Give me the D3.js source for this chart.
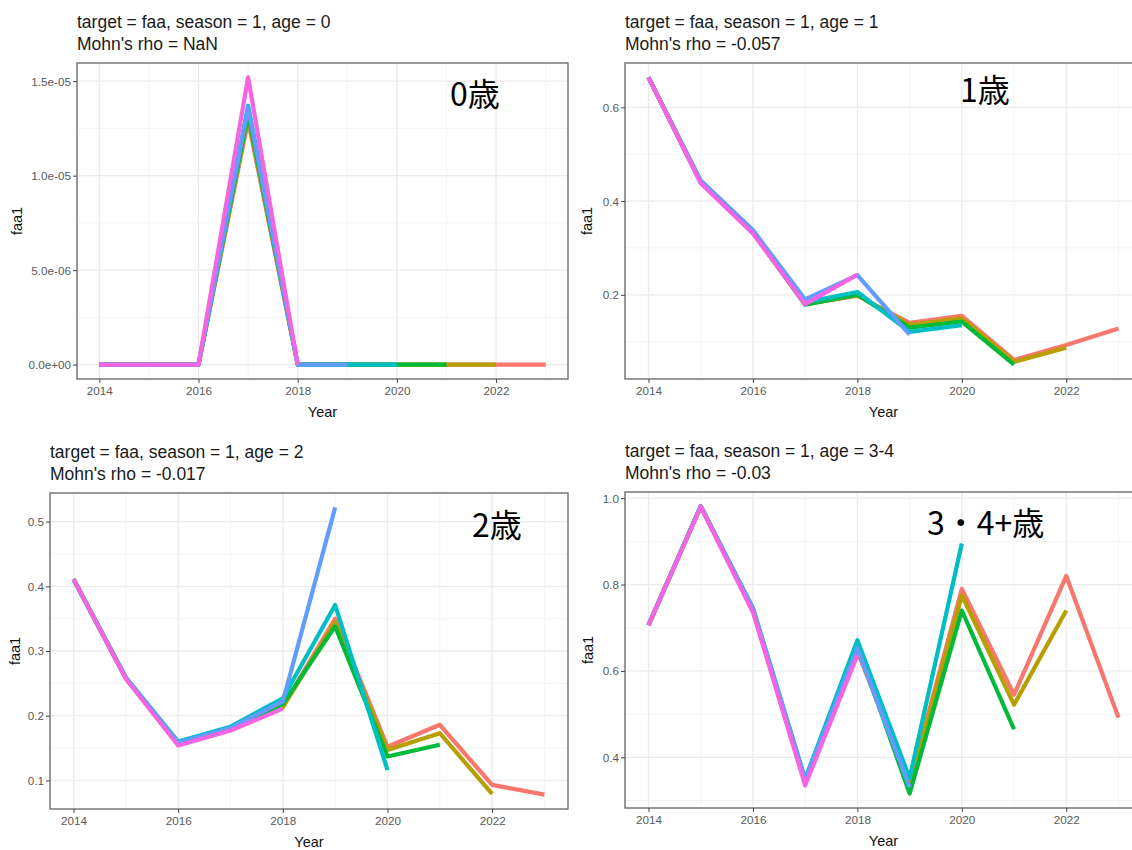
<!DOCTYPE html>
<html>
<head>
<meta charset="utf-8">
<script src="https://cdn.jsdelivr.net/npm/d3@7"></script>
<style>
  body { margin: 0; background: #fff; }
  svg { display: block; font-family: "Liberation Sans", Arial, sans-serif; }
</style>
</head>
<body>
<svg id="chart" width="1132" height="850"></svg>
<script>
// Retrospective runs of faa (season 1), one line per terminal year.
const years = [2014, 2015, 2016, 2017, 2018, 2019, 2020, 2021, 2022, 2023];
const runs = ["2023", "2022", "2021", "2020", "2019", "2018"];
const runColors = ["#F8766D", "#B79F00", "#00BA38", "#00BFC4", "#619CFF", "#F564E3"];

// age 0 — one array per run (2023 ... 2018)
const age0 = [
  [0, 0, 0, 1.29e-5, 0, 0, 0, 0, 0, 0],
  [0, 0, 0, 1.31e-5, 0, 0, 0, 0, 0],
  [0, 0, 0, 1.33e-5, 0, 0, 0, 0],
  [0, 0, 0, 1.37e-5, 0, 0, 0],
  [0, 0, 0, 1.36e-5, 0, 0],
  [0, 0, 0, 1.52e-5, 0]
];
// age 1
const age1 = [
  [0.664, 0.440, 0.333, 0.180, 0.198, 0.140, 0.155, 0.061, 0.093, 0.128],
  [0.664, 0.440, 0.333, 0.180, 0.199, 0.136, 0.150, 0.057, 0.087],
  [0.664, 0.440, 0.333, 0.179, 0.200, 0.130, 0.143, 0.051],
  [0.664, 0.442, 0.335, 0.184, 0.206, 0.121, 0.135],
  [0.664, 0.444, 0.338, 0.190, 0.242, 0.115],
  [0.664, 0.438, 0.331, 0.180, 0.243]
];
// age 2
const age2 = [
  [0.411, 0.258, 0.155, 0.178, 0.214, 0.350, 0.152, 0.186, 0.093, 0.078],
  [0.411, 0.258, 0.155, 0.178, 0.213, 0.345, 0.147, 0.173, 0.079],
  [0.411, 0.258, 0.156, 0.179, 0.218, 0.338, 0.137, 0.155],
  [0.411, 0.259, 0.160, 0.183, 0.227, 0.371, 0.116],
  [0.411, 0.259, 0.158, 0.181, 0.222, 0.522],
  [0.411, 0.257, 0.154, 0.177, 0.211]
];
// age 3-4
const age34 = [
  [0.706, 0.981, 0.742, 0.340, 0.645, 0.340, 0.790, 0.545, 0.820, 0.492],
  [0.706, 0.981, 0.742, 0.340, 0.650, 0.335, 0.775, 0.522, 0.740],
  [0.706, 0.981, 0.742, 0.342, 0.660, 0.316, 0.740, 0.465],
  [0.706, 0.981, 0.745, 0.350, 0.671, 0.352, 0.895],
  [0.706, 0.981, 0.745, 0.348, 0.652, 0.331],
  [0.706, 0.980, 0.736, 0.335, 0.637]
];

// Axis ticks and labels
const xTicks = [2014, 2016, 2018, 2020, 2022];
const xTickLabels = ["2014", "2016", "2018", "2020", "2022"];
const yTicks0 = [0, 5e-6, 1e-5, 1.5e-5];
const yTickLabels0 = ["0.0e+00", "5.0e-06", "1.0e-05", "1.5e-05"];
const yTicks1 = [0.2, 0.4, 0.6];
const yTickLabels1 = ["0.2", "0.4", "0.6"];
const yTicks2 = [0.1, 0.2, 0.3, 0.4, 0.5];
const yTickLabels2 = ["0.1", "0.2", "0.3", "0.4", "0.5"];
const yTicks34 = [0.4, 0.6, 0.8, 1.0];
const yTickLabels34 = ["0.4", "0.6", "0.8", "1.0"];

// Panel texts
const ageLabels = ["0", "1", "2", "3-4"];
const rhoLabels = ["NaN", "-0.057", "-0.017", "-0.03"];
const notes = ["0歳", "1歳", "2歳", "3・4+歳"];

// Panel boxes on the page (left, top, right, bottom) and placement of the big note
const boxes = [
  { l: 77, t: 63, r: 568, b: 379, titleX: 77, yTitleX: 22, note: [373, 43] },
  { l: 625, t: 63, r: 1142, b: 379, titleX: 625, yTitleX: 592, note: [335, 39] },
  { l: 50, t: 493, r: 568, b: 809, titleX: 50, yTitleX: 20, note: [422, 44] },
  { l: 625, t: 492, r: 1142, b: 808, titleX: 625, yTitleX: 593, note: [302, 43] }
];

const panels = [
  { data: age0, yTicks: yTicks0, yLabels: yTickLabels0 },
  { data: age1, yTicks: yTicks1, yLabels: yTickLabels1 },
  { data: age2, yTicks: yTicks2, yLabels: yTickLabels2 },
  { data: age34, yTicks: yTicks34, yLabels: yTickLabels34 }
];

const svg = d3.select("#chart");

function expand(ext) {
  const pad = (ext[1] - ext[0]) * 0.05;
  return [ext[0] - pad, ext[1] + pad];
}

function minorBreaks(major, domain) {
  const step = major[1] - major[0];
  const out = [];
  const all = [major[0] - step].concat(major, [major[major.length - 1] + step]);
  for (let i = 0; i < all.length - 1; i++) {
    const m = (all[i] + all[i + 1]) / 2;
    if (m >= domain[0] && m <= domain[1]) out.push(m);
  }
  return out;
}

panels.forEach((p, i) => {
  const box = boxes[i];
  const g = svg.append("g");

  const x = d3.scaleLinear()
    .domain(expand(d3.extent(years)))
    .range([box.l, box.r]);
  const allVals = p.data.flat();
  const y = d3.scaleLinear()
    .domain(expand(d3.extent(allVals)))
    .range([box.b, box.t]);

  // panel background
  g.append("rect")
    .attr("x", box.l).attr("y", box.t)
    .attr("width", box.r - box.l).attr("height", box.b - box.t)
    .attr("fill", "#fff");

  // minor grid
  const xMinor = minorBreaks(xTicks, x.domain());
  const yMinor = minorBreaks(p.yTicks, y.domain());
  g.selectAll(".xminor").data(xMinor).join("line")
    .attr("x1", d => x(d)).attr("x2", d => x(d))
    .attr("y1", box.t).attr("y2", box.b)
    .attr("stroke", "#F3F3F3").attr("stroke-width", 0.8);
  g.selectAll(".yminor").data(yMinor).join("line")
    .attr("x1", box.l).attr("x2", box.r)
    .attr("y1", d => y(d)).attr("y2", d => y(d))
    .attr("stroke", "#F3F3F3").attr("stroke-width", 0.8);

  // major grid
  g.selectAll(".xmajor").data(xTicks).join("line")
    .attr("x1", d => x(d)).attr("x2", d => x(d))
    .attr("y1", box.t).attr("y2", box.b)
    .attr("stroke", "#EBEBEB").attr("stroke-width", 1.3);
  g.selectAll(".ymajor").data(p.yTicks).join("line")
    .attr("x1", box.l).attr("x2", box.r)
    .attr("y1", d => y(d)).attr("y2", d => y(d))
    .attr("stroke", "#EBEBEB").attr("stroke-width", 1.3);

  // retrospective lines, oldest run drawn last
  const line = d3.line()
    .x((d, k) => x(years[k]))
    .y(d => y(d));
  g.selectAll(".run").data(p.data).join("path")
    .attr("d", d => line(d))
    .attr("fill", "none")
    .attr("stroke", (d, k) => runColors[k])
    .attr("stroke-width", 4.2)
    .attr("stroke-linejoin", "round")
    .attr("stroke-linecap", "butt");

  // border
  g.append("rect")
    .attr("x", box.l).attr("y", box.t)
    .attr("width", box.r - box.l).attr("height", box.b - box.t)
    .attr("fill", "none").attr("stroke", "#6E6E6E").attr("stroke-width", 1.4);

  // axes
  const xAxis = d3.axisBottom(x).tickValues(xTicks)
    .tickFormat((d, k) => xTickLabels[k]).tickSize(4).tickSizeOuter(0);
  const yAxis = d3.axisLeft(y).tickValues(p.yTicks)
    .tickFormat((d, k) => p.yLabels[k]).tickSize(4).tickSizeOuter(0);

  const gx = g.append("g").attr("transform", `translate(0,${box.b})`).call(xAxis);
  const gy = g.append("g").attr("transform", `translate(${box.l},0)`).call(yAxis);
  [gx, gy].forEach(a => {
    a.select(".domain").remove();
    a.selectAll(".tick line").attr("stroke", "#444").attr("stroke-width", 1);
    a.selectAll(".tick text")
      .attr("fill", "#5a5a5a")
      .style("font-size", "11.7px")
      .style("font-family", "'Liberation Sans', Arial, sans-serif");
  });
  gx.selectAll(".tick text").attr("y", 8).attr("dy", "0.71em");
  gy.selectAll(".tick text").attr("x", -6).attr("dy", "0.34em");

  // axis titles
  g.append("text")
    .attr("x", (box.l + box.r) / 2).attr("y", box.b + 38)
    .attr("text-anchor", "middle")
    .style("font-size", "14.5px").attr("fill", "#111")
    .text("Year");
  g.append("text")
    .attr("transform", `translate(${box.yTitleX},${(box.t + box.b) / 2}) rotate(-90)`)
    .attr("text-anchor", "middle")
    .style("font-size", "14.5px").attr("fill", "#111")
    .text("faa1");

  // two-line title
  g.append("text")
    .attr("x", box.titleX).attr("y", box.t - 35.5)
    .style("font-size", "17.5px").attr("fill", "#1a1a1a")
    .text(`target = faa, season = 1, age = ${ageLabels[i]}`);
  g.append("text")
    .attr("x", box.titleX).attr("y", box.t - 13.5)
    .style("font-size", "17.5px").attr("fill", "#1a1a1a")
    .text(`Mohn's rho = ${rhoLabels[i]}`);

  // age note inside the panel
  g.append("text")
    .attr("x", box.l + box.note[0]).attr("y", box.t + box.note[1])
    .style("font-family", "'Noto Sans CJK JP', sans-serif")
    .style("font-size", "32px").style("font-weight", 400)
    .attr("fill", "#000")
    .text(notes[i]);
});
</script>
</body>
</html>
